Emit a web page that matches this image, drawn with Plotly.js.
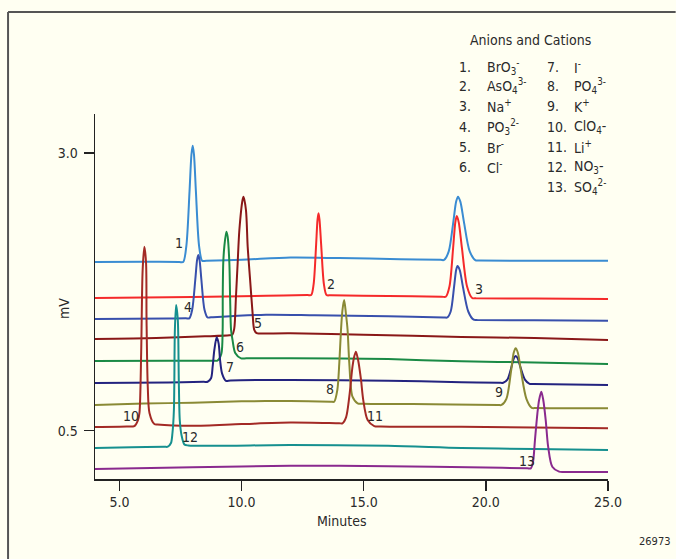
<!DOCTYPE html>
<html><head><meta charset="utf-8">
<script src="https://cdn.plot.ly/plotly-3.0.1.min.js"></script>
<style>html,body{margin:0;padding:0;background:#fffff2;}</style>
</head><body><div id="chart" style="width:676px;height:559px;"></div>
<script>
// ---- data ----
const xTicks = [5, 10, 15, 20, 25];
const xTickLabels = ['5.0', '10.0', '15.0', '20.0', '25.0'];
const yTicks = [0.5, 3.0];
const yTickLabels = ['0.5', '3.0'];

const timeA = [4.0, 6.0, 7.45, 7.61, 7.74, 7.87, 7.948, 8.00, 8.052, 8.13, 8.26, 8.39, 8.55, 10.0, 12.0, 14.0, 16.5, 18.15, 18.29, 18.48, 18.67, 18.784, 18.86, 18.956, 19.10, 19.34, 19.58, 19.75, 22.0, 25.0];
const signalA = [2.020, 2.022, 2.020, 2.020, 2.166, 2.658, 2.988, 3.068, 2.988, 2.658, 2.166, 2.030, 2.032, 2.040, 2.060, 2.055, 2.045, 2.039, 2.038, 2.115, 2.384, 2.564, 2.608, 2.564, 2.384, 2.115, 2.035, 2.034, 2.030, 2.030];

const timeB = [4.0, 8.0, 11.0, 12.7, 12.85, 12.95, 13.05, 13.11, 13.15, 13.19, 13.26, 13.37, 13.48, 13.65, 16.0, 18.2, 18.36, 18.51, 18.66, 18.75, 18.81, 18.89, 19.02, 19.23, 19.44, 19.6, 22.0, 25.0];
const signalB = [1.695, 1.705, 1.715, 1.722, 1.722, 1.821, 2.169, 2.402, 2.459, 2.402, 2.169, 1.821, 1.722, 1.720, 1.713, 1.707, 1.707, 1.799, 2.146, 2.377, 2.434, 2.377, 2.146, 1.799, 1.695, 1.693, 1.690, 1.686];

const timeC = [4.0, 7.0, 7.72, 7.86, 7.98, 8.105, 8.18, 8.23, 8.28, 8.355, 8.48, 8.61, 8.75, 11.0, 13.0, 16.0, 18.28, 18.42, 18.56, 18.70, 18.784, 18.84, 18.93, 19.06, 19.28, 19.50, 19.65, 22.0, 25.0];
const signalC = [1.506, 1.510, 1.512, 1.512, 1.592, 1.860, 2.039, 2.083, 2.039, 1.860, 1.592, 1.520, 1.522, 1.545, 1.540, 1.530, 1.520, 1.520, 1.574, 1.798, 1.948, 1.984, 1.948, 1.798, 1.574, 1.500, 1.498, 1.495, 1.491];

const timeD = [4.0, 6.5, 8.5, 9.50, 9.62, 9.70, 9.77, 9.84, 9.91, 10.04, 10.08, 10.18, 10.25, 10.35, 10.45, 10.52, 10.62, 10.75, 12.0, 15.0, 19.0, 22.0, 25.0];
const signalD = [1.326, 1.335, 1.350, 1.360, 1.365, 1.420, 1.705, 2.011, 2.308, 2.578, 2.608, 2.488, 2.158, 1.858, 1.561, 1.408, 1.378, 1.376, 1.377, 1.365, 1.345, 1.335, 1.317];

const timeE = [4.0, 7.0, 8.85, 9.008, 9.17, 9.225, 9.229, 9.25, 9.294, 9.376, 9.43, 9.50, 9.53, 9.57, 9.63, 9.74, 9.98, 10.2, 12.0, 16.0, 19.0, 22.0, 25.0];
const signalE = [1.128, 1.130, 1.131, 1.131, 1.191, 1.407, 1.707, 2.011, 2.158, 2.293, 2.248, 2.011, 1.707, 1.407, 1.317, 1.200, 1.152, 1.152, 1.153, 1.145, 1.125, 1.115, 1.101];

const timeF = [4.0, 7.0, 8.45, 8.61, 8.75, 8.816, 8.885, 8.98, 9.06, 9.12, 9.20, 9.36, 9.55, 12.0, 16.0, 19.0, 20.55, 20.71, 20.88, 21.05, 21.15, 21.22, 21.30, 21.41, 21.60, 21.79, 21.95, 25.0];
const signalF = [0.930, 0.935, 0.940, 0.941, 0.972, 1.077, 1.227, 1.341, 1.287, 1.137, 1.017, 0.950, 0.953, 0.957, 0.950, 0.937, 0.932, 0.932, 0.960, 1.076, 1.154, 1.173, 1.154, 1.076, 0.960, 0.922, 0.921, 0.912];

const timeG = [4.0, 6.0, 8.0, 10.0, 12.0, 13.65, 13.79, 13.92, 14.00, 14.07, 14.13, 14.20, 14.27, 14.34, 14.41, 14.54, 14.75, 14.95, 17.0, 20.5, 20.64, 20.84, 21.03, 21.14, 21.22, 21.31, 21.44, 21.66, 21.88, 22.05, 25.0];
const signalG = [0.732, 0.745, 0.752, 0.765, 0.768, 0.762, 0.761, 0.867, 1.107, 1.407, 1.587, 1.677, 1.558, 1.407, 1.107, 0.806, 0.747, 0.743, 0.741, 0.732, 0.732, 0.787, 1.035, 1.202, 1.242, 1.202, 1.035, 0.787, 0.706, 0.704, 0.702];

const timeH = [4.0, 5.3, 5.61, 5.76, 5.82, 5.89, 5.95, 6.02, 6.09, 6.11, 6.16, 6.23, 6.43, 6.55, 8.0, 10.0, 12.0, 14.0, 14.13, 14.28, 14.41, 14.54, 14.61, 14.68, 14.77, 14.89, 14.98, 15.16, 15.43, 15.7, 19.0, 25.0];
const signalH = [0.533, 0.537, 0.542, 0.596, 0.660, 1.200, 1.947, 2.158, 2.011, 1.497, 0.896, 0.660, 0.560, 0.556, 0.545, 0.560, 0.573, 0.567, 0.567, 0.623, 0.806, 1.077, 1.167, 1.212, 1.137, 0.957, 0.777, 0.596, 0.542, 0.538, 0.535, 0.522];

const timeI = [4.0, 5.5, 6.85, 6.98, 7.11, 7.17, 7.23, 7.27, 7.32, 7.39, 7.43, 7.47, 7.54, 7.66, 7.82, 12.0, 16.0, 19.0, 22.0, 25.0];
const signalI = [0.344, 0.352, 0.355, 0.356, 0.389, 0.477, 0.686, 1.407, 1.632, 1.497, 0.957, 0.596, 0.462, 0.376, 0.367, 0.371, 0.365, 0.345, 0.335, 0.326];

const timeJ = [4.0, 8.0, 12.0, 16.0, 20.0, 21.7, 21.84, 21.93, 22.01, 22.11, 22.18, 22.27, 22.35, 22.45, 22.55, 22.72, 23.00, 23.3, 25.0];
const signalJ = [0.155, 0.170, 0.185, 0.180, 0.168, 0.162, 0.161, 0.218, 0.416, 0.657, 0.777, 0.851, 0.777, 0.596, 0.356, 0.176, 0.131, 0.129, 0.128];

const peakLabels = ['1', '2', '3', '4', '5', '6', '7', '8', '9', '10', '11', '12', '13'];
const peakLabelTime = [7.45, 13.67, 19.73, 7.82, 10.69, 9.95, 9.54, 13.63, 20.54, 5.49, 15.47, 7.89, 21.69];
const peakLabelSignal = [2.19, 1.82, 1.78, 1.61, 1.47, 1.25, 1.07, 0.88, 0.85, 0.63, 0.63, 0.44, 0.23];

const ionNumbers = ['1.', '2.', '3.', '4.', '5.', '6.', '7.', '8.', '9.', '10.', '11.', '12.', '13.'];
const ionNames = ['BrO<sub>3</sub><sup>-</sup>', 'AsO<sub>4</sub><sup>3-</sup>', 'Na<sup>+</sup>', 'PO<sub>3</sub><sup>2-</sup>', 'Br<sup>-</sup>', 'Cl<sup>-</sup>',
                  'I<sup>-</sup>', 'PO<sub>4</sub><sup>3-</sup>', 'K<sup>+</sup>', 'ClO<sub>4</sub>-', 'Li<sup>+</sup>', 'NO<sub>3</sub>-', 'SO<sub>4</sub><sup>2-</sup>'];
const legendTitle = 'Anions and Cations';
const xTitle = 'Minutes';
const yTitle = 'mV';
const figureId = '26973';

// ---- styling ----
const series = [
  [timeA, signalA, '#3a8cd2'],
  [timeB, signalB, '#f52a2a'],
  [timeC, signalC, '#3850ac'],
  [timeD, signalD, '#8a1818'],
  [timeE, signalE, '#1a8a45'],
  [timeF, signalF, '#23237f'],
  [timeG, signalG, '#8a8a35'],
  [timeH, signalH, '#a32a25'],
  [timeI, signalI, '#16908f'],
  [timeJ, signalJ, '#8a2a8e']
];
const FONT = '"DejaVu Sans Condensed", "Liberation Sans Narrow", "Arial Narrow", sans-serif';
const FS = 14;
const TXT = '#2a2a2a';
const L = 95, R = 608.3, T = 114, B = 479;
const px = v => (v - L) / (R - L);
const py = v => (B - v) / (B - T);

const traces = series.map(s => ({
  x: s[0], y: s[1], type: 'scatter', mode: 'lines',
  line: {color: s[2], width: 2, shape: 'spline', smoothing: 0.8},
  hoverinfo: 'skip', showlegend: false
}));

const ann = [];
peakLabels.forEach((t, i) => ann.push({
  x: peakLabelTime[i], y: peakLabelSignal[i], xref: 'x', yref: 'y', text: t,
  showarrow: false, xanchor: 'center', yanchor: 'middle', font: {family: FONT, size: FS, color: TXT}
}));
ann.push({x: px(531), y: py(40), xref: 'paper', yref: 'paper', text: legendTitle, showarrow: false,
  xanchor: 'center', yanchor: 'middle', font: {family: FONT, size: FS, color: TXT}});
const rowY = [67, 86.5, 106.5, 127, 147, 167, 187];
ionNumbers.forEach((n, i) => {
  const col = i < 6 ? 0 : 1;
  const row = i < 6 ? i : i - 6;
  ann.push({x: px(col ? 545 : 457), y: py(rowY[row]), xref: 'paper', yref: 'paper', text: n, showarrow: false,
    xanchor: 'left', yanchor: 'middle', font: {family: FONT, size: FS, color: TXT}});
  ann.push({x: px(col ? 572 : 485), y: py(rowY[row]), xref: 'paper', yref: 'paper', text: ionNames[i], showarrow: false,
    xanchor: 'left', yanchor: 'middle', font: {family: FONT, size: FS, color: TXT}});
});
ann.push({x: px(342.5), y: py(521), xref: 'paper', yref: 'paper', text: xTitle, showarrow: false,
  xanchor: 'center', yanchor: 'middle', font: {family: FONT, size: FS, color: TXT}});
ann.push({x: px(64), y: py(309), xref: 'paper', yref: 'paper', text: yTitle, showarrow: false, textangle: -90,
  xanchor: 'center', yanchor: 'middle', font: {family: FONT, size: FS, color: TXT}});
ann.push({x: px(655), y: py(541), xref: 'paper', yref: 'paper', text: figureId, showarrow: false,
  xanchor: 'center', yanchor: 'middle', font: {family: FONT, size: 11, color: TXT}});

const layout = {
  width: 676, height: 559,
  margin: {l: L, r: 676 - R, t: T, b: 559 - B, pad: 0},
  paper_bgcolor: '#fffff2', plot_bgcolor: '#fffff2',
  font: {family: FONT, size: FS, color: TXT},
  xaxis: {range: [4.0, 25.0], tickvals: xTicks, ticktext: xTickLabels, ticks: 'outside', ticklen: 10,
    tickwidth: 1.5, tickcolor: '#222', showline: true, linecolor: '#222', linewidth: 1.5,
    showgrid: false, zeroline: false, fixedrange: true, tickfont: {family: FONT, size: FS, color: TXT}},
  yaxis: {range: [0.065, 3.353], tickvals: yTicks, ticktext: yTickLabels, ticks: 'outside', ticklen: 10,
    tickwidth: 1.5, tickcolor: '#222', showline: true, linecolor: '#222', linewidth: 1.5,
    showgrid: false, zeroline: false, fixedrange: true, ticklabelstandoff: 3, tickfont: {family: FONT, size: FS, color: TXT}},
  annotations: ann,
  shapes: [
    {type: 'line', xref: 'paper', yref: 'paper', x0: px(8), x1: px(676), y0: py(12), y1: py(12), line: {color: '#555', width: 2}},
    {type: 'line', xref: 'paper', yref: 'paper', x0: px(8), x1: px(8), y0: py(12), y1: py(559), line: {color: '#555', width: 2}}
  ]
};
Plotly.newPlot('chart', traces, layout, {displayModeBar: false, staticPlot: true});
</script></body></html>
